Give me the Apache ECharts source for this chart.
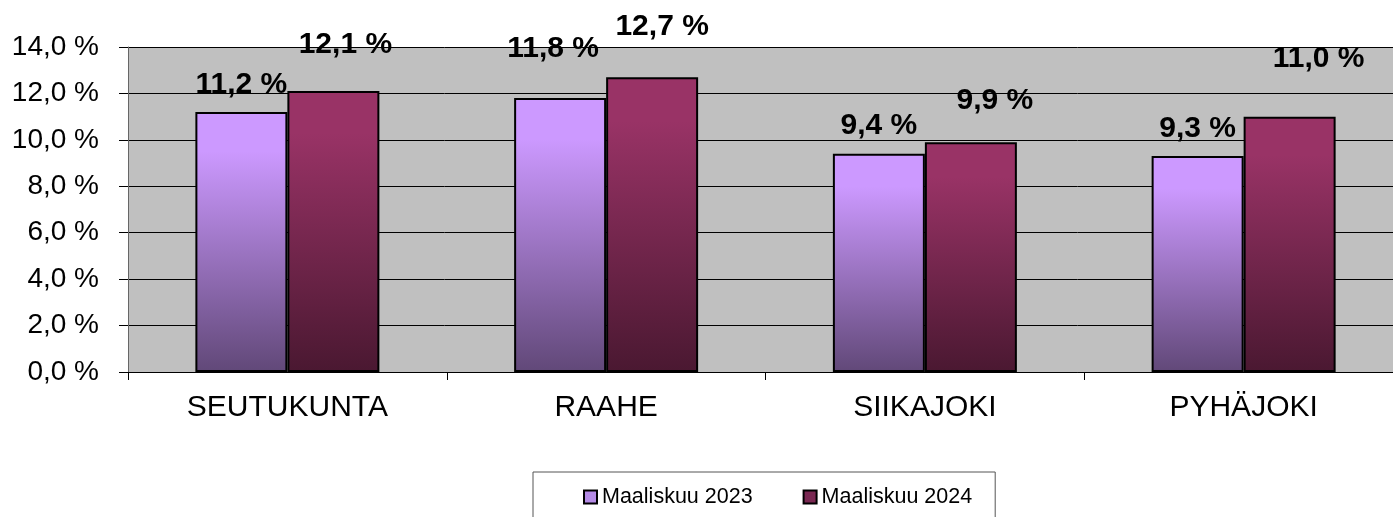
<!DOCTYPE html>
<html>
<head>
<meta charset="utf-8">
<script src="https://cdn.jsdelivr.net/npm/echarts@6/dist/echarts.min.js"></script>
<style>html,body{margin:0;padding:0;background:#fff;}#c{width:1393px;height:517px;}</style>
</head>
<body>
<div id="c"></div>
<script>
const categories = ['SEUTUKUNTA', 'RAAHE', 'SIIKAJOKI', 'PYHÄJOKI'];
const seriesNames = ['Maaliskuu 2023', 'Maaliskuu 2024'];
const values2023 = [11.2, 11.8, 9.4, 9.3];
const values2024 = [12.1, 12.7, 9.9, 11.0];
const yMin = 0, yMax = 14, yStep = 2;

// label nudges (style only, relative to each bar's top)
const labelNudge2023 = [[0, -12], [-7, -34], [0, -13], [0, -12]];
const labelNudge2024 = [[12, -31], [10, -35], [24, -26], [29, -43]];

const fmt = v => v.toFixed(1).replace('.', ',') + ' %';
const font = "'Liberation Sans', Arial, sans-serif";

function grad(top, bottom) {
  return new echarts.graphic.LinearGradient(0, 0, 0, 1, [
    { offset: 0, color: top },
    { offset: 0.15, color: top },
    { offset: 1, color: bottom }
  ]);
}

function mkData(vals, nudges) {
  return vals.map((v, i) => ({ value: v, label: { offset: nudges[i] } }));
}

const chart = echarts.init(document.getElementById('c'), null, { renderer: 'canvas' });
chart.setOption({
  animation: false,
  backgroundColor: '#fff',
  grid: { left: 128, width: 1275, top: 47, bottom: 145, outerBoundsMode: 'none', containLabel: false, show: true, backgroundColor: '#C0C0C0', borderWidth: 0 },
  legend: {
    left: 533, top: 472,
    padding: [14, 23, 40, 50],
    borderColor: '#555', borderWidth: 1,
    itemGap: 50, itemWidth: 13, itemHeight: 13,
    icon: 'rect',
    textStyle: { fontFamily: font, fontSize: 21.5, color: '#000' },
    data: [
      { name: seriesNames[0], itemStyle: { color: '#B58BE6', borderColor: '#000', borderWidth: 2 } },
      { name: seriesNames[1], itemStyle: { color: '#7A2852', borderColor: '#000', borderWidth: 2 } }
    ]
  },
  xAxis: {
    type: 'category', data: categories,
    axisLine: { lineStyle: { color: '#000', width: 1 } },
    axisTick: { show: true, length: 8, lineStyle: { color: '#000' } },
    axisLabel: { fontFamily: font, fontSize: 30, color: '#000', margin: 21 },
    splitLine: { show: false }
  },
  yAxis: {
    type: 'value', min: yMin, max: yMax, interval: yStep,
    axisLine: { show: true, lineStyle: { color: '#666', width: 1 } },
    axisTick: { show: true, length: 9, lineStyle: { color: '#000' } },
    axisLabel: { fontFamily: font, fontSize: 28, color: '#000', margin: 29, formatter: v => fmt(v) },
    splitLine: { show: true, lineStyle: { color: '#000', width: 1 } }
  },
  series: [
    {
      name: seriesNames[0], type: 'bar', barWidth: 92, barGap: '0%',
      data: mkData(values2023, labelNudge2023),
      itemStyle: { color: grad('#CC99FF', '#614878'), borderColor: '#000', borderWidth: 2 },
      label: { show: true, position: 'top', distance: 0, lineHeight: 30, fontFamily: font, fontSize: 30, fontWeight: 'bold', color: '#000', formatter: p => fmt(p.value) }
    },
    {
      name: seriesNames[1], type: 'bar', barWidth: 92, barGap: '0%',
      data: mkData(values2024, labelNudge2024),
      itemStyle: { color: grad('#993366', '#4A1831'), borderColor: '#000', borderWidth: 2 },
      label: { show: true, position: 'top', distance: 0, lineHeight: 30, fontFamily: font, fontSize: 30, fontWeight: 'bold', color: '#000', formatter: p => fmt(p.value) }
    }
  ]
});
</script>
</body>
</html>
